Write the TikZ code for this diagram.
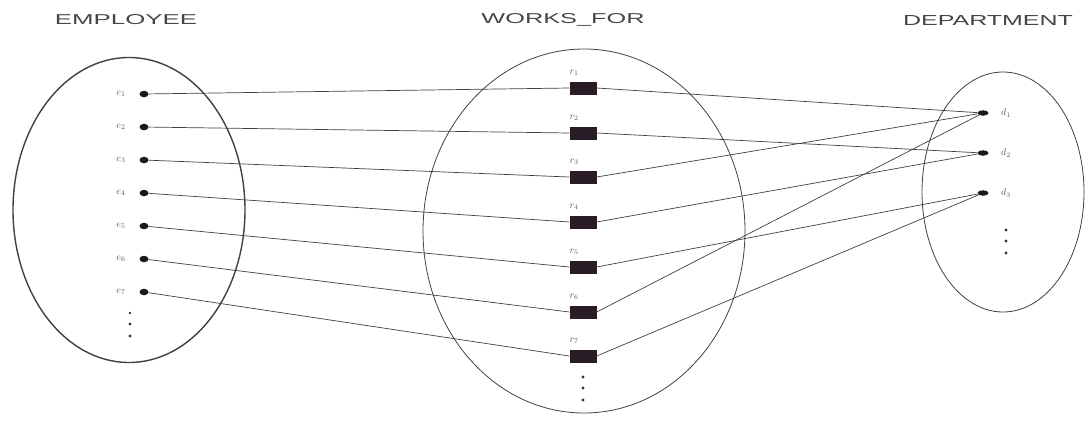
\documentclass[tikz,border=0pt]{standalone}
\usepackage{fontspec}
\usepackage{graphicx}
\setmainfont{Liberation Sans}
\usetikzlibrary{shapes.geometric}
\definecolor{titlegray}{RGB}{70,70,70}
\definecolor{relfill}{RGB}{42,28,38}
\definecolor{linegray}{RGB}{65,65,65}
\begin{document}
\begin{tikzpicture}[x=1pt,y=-1pt,
  title/.style={text=titlegray, inner sep=0pt},
  setbox/.style={draw=linegray, ellipse, inner sep=0pt, line width=0.8pt},
  edot/.style={ellipse, fill=black!90, inner sep=0pt, minimum width=9pt, minimum height=6.5pt},
  ddot/.style={ellipse, fill=black!90, inner sep=0pt, minimum width=11pt, minimum height=5.5pt},
  rel/.style={rectangle, fill=relfill, minimum width=27pt, minimum height=13pt, inner sep=0pt},
  lab/.style={font=\fontsize{10}{10}\selectfont, text=black!65, inner sep=0pt},
  vdot/.style={circle, fill=black!80, inner sep=0pt, minimum size=3.4pt},
  link/.style={draw=linegray, line width=0.7pt}]
\useasboundingbox (0,0) rectangle (1086,421);
\fill[white] (0,0) rectangle (1086,421);
% titles
\node[title] (tEmp) at (126,20) {\resizebox{142pt}{10pt}{EMPLOYEE}};
\node[title] (tWf) at (563,20) {\resizebox{163pt}{10pt}{WORKS\_FOR}};
\node[title] (tDep) at (988,20) {\resizebox{170pt}{10pt}{DEPARTMENT}};
% sets
\node[setbox, line width=1.4pt, minimum width=232pt, minimum height=305pt] (emp) at (129,210) {};
\node[setbox, minimum width=322pt, minimum height=364pt] (wf) at (584,231) {};
\node[setbox, minimum width=162pt, minimum height=240pt] (dep) at (1003,192) {};
% employees
\foreach \i/\y in {1/94,2/127,3/160,4/193,5/226,6/259,7/292}{
  \node[edot] (e\i) at (144,\y) {};
  \node[lab] (le\i) at (121,\y) {$e_{\i}$};
}
\node[vdot, minimum size=2.6pt] (ev1) at (130,313) {};
\node[vdot] (ev2) at (130,324) {};
\node[vdot] (ev3) at (130,336) {};
% relationship instances
\foreach \i/\y in {1/88,2/133,3/177,4/222,5/267,6/312,7/356}{
  \node[rel] (r\i) at (583,\y) {};
  \node[lab] (lr\i) at (574,\y-15) {$r_{\i}$};
}
\node[vdot] (rv1) at (583,377) {};
\node[vdot] (rv2) at (583,388) {};
\node[vdot] (rv3) at (583,400) {};
% departments
\foreach \i/\y in {1/113,2/153,3/193}{
  \node[ddot] (d\i) at (983,\y) {};
  \node[lab] (ld\i) at (1006,\y) {$d_{\i}$};
}
\node[vdot] (dv1) at (1006,230) {};
\node[vdot] (dv2) at (1006,241) {};
\node[vdot] (dv3) at (1006,253) {};
% links
\foreach \i in {1,...,7}{ \draw[link] (e\i) -- (r\i.west); }
\foreach \r/\d in {1/1,2/2,3/1,4/2,5/3,6/1,7/3}{ \draw[link] (r\r.east) -- (d\d); }
\end{tikzpicture}
\end{document}
